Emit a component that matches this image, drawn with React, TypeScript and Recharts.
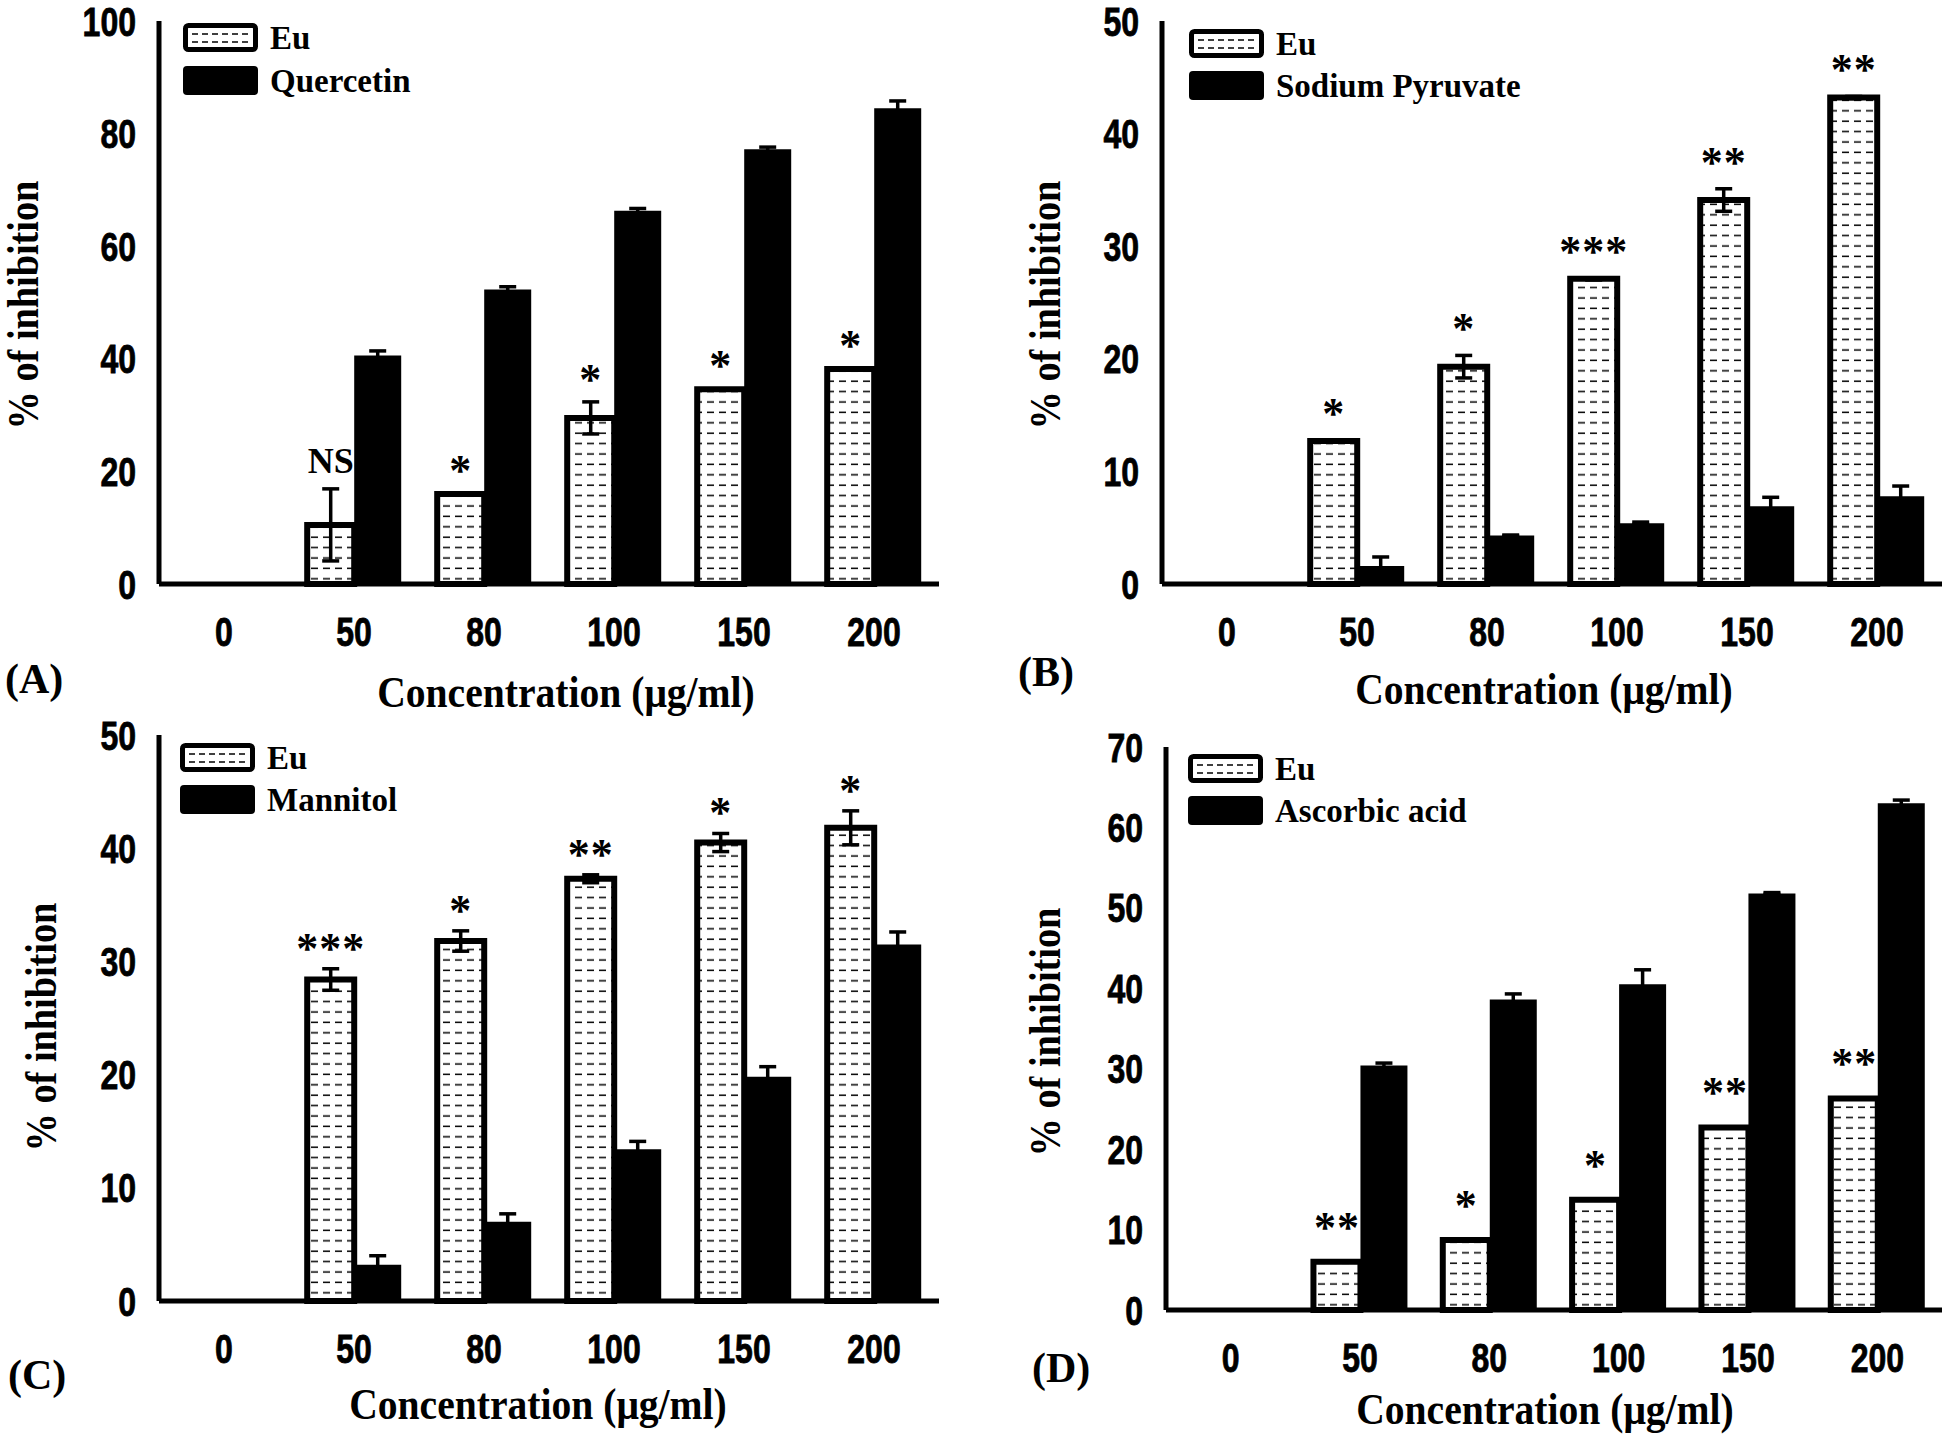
import { BarChart, Bar, XAxis, YAxis, ErrorBar, LabelList } from "recharts";

const categories = ["0", "50", "80", "100", "150", "200"];

// (A) Eu vs Quercetin
const euA = [0, 10.5, 16.0, 29.5, 34.6, 38.2];
const euErrA = [0, 6.4, 0, 2.85, 0, 0.2];
const quercetin = [0, 40.6, 52.3, 66.3, 77.2, 84.5];
const quercetinErr = [0, 0.8, 0.5, 0.4, 0.4, 1.3];
const sigA = ["", "NS", "*", "*", "*", "*"];
const ticksA = [0, 20, 40, 60, 80, 100];

// (B) Eu vs Sodium Pyruvate
const euB = [0, 12.7, 19.3, 27.1, 34.1, 43.2];
const euErrB = [0, 0.1, 1.0, 0.1, 1.0, 0.1];
const sodiumPyruvate = [0, 1.6, 4.3, 5.4, 6.9, 7.8];
const sodiumPyruvateErr = [0, 0.8, 0.05, 0.1, 0.8, 0.9];
const sigB = ["", "*", "*", "***", "**", "**"];
const ticksB = [0, 10, 20, 30, 40, 50];

// (C) Eu vs Mannitol
const euC = [0, 28.4, 31.8, 37.3, 40.5, 41.8];
const euErrC = [0, 0.95, 0.9, 0.35, 0.8, 1.5];
const mannitol = [0, 3.2, 7.0, 13.4, 19.8, 31.5];
const mannitolErr = [0, 0.8, 0.7, 0.7, 0.9, 1.1];
const sigC = ["", "***", "*", "**", "*", "*"];
const ticksC = [0, 10, 20, 30, 40, 50];

// (D) Eu vs Ascorbic acid
const euD = [0, 6.0, 8.7, 13.7, 22.7, 26.3];
const euErrD = [0, 0, 0, 0, 0, 0];
const ascorbicAcid = [0, 30.4, 38.6, 40.5, 51.8, 63.0];
const ascorbicAcidErr = [0, 0.3, 0.7, 1.8, 0.1, 0.4];
const sigD = ["", "**", "*", "*", "**", "**"];
const ticksD = [0, 10, 20, 30, 40, 50, 60, 70];

const SERIF = "'Liberation Serif', 'Times New Roman', serif";
const SANS = "'Liberation Sans', Arial, sans-serif";

const YW = 150;
const MT = 40;
const XH = 90;
const MR = 4;

function XTick(props: any) {
  const { x, y, payload } = props;
  return (
    <text
      transform={`translate(${x},${y + 62}) scale(0.8,1)`}
      textAnchor="middle"
      fontFamily={SANS}
      fontWeight={700}
      fontSize={40}
      fill="#000"
      stroke="#000"
      strokeWidth={0.8}
    >
      {payload.value}
    </text>
  );
}

function YTick(props: any) {
  const { x, y, payload } = props;
  return (
    <text
      transform={`translate(${x - 23},${y + 14.5}) scale(0.8,1)`}
      textAnchor="end"
      fontFamily={SANS}
      fontWeight={700}
      fontSize={40}
      fill="#000"
      stroke="#000"
      strokeWidth={0.8}
    >
      {payload.value}
    </text>
  );
}

type PanelProps = {
  id: string;
  eu: number[];
  euErr: number[];
  other: number[];
  otherErr: number[];
  sig: string[];
  ticks: number[];
  plotLeft: number;
  plotTop: number;
  plotW: number;
  plotH: number;
  sigGap: number;
};

function Panel(p: PanelProps) {
  const data = categories.map((c, i) => ({
    cat: c,
    eu: p.eu[i],
    euErr: p.euErr[i],
    other: p.other[i],
    otherErr: p.otherErr[i],
    sig: p.sig[i],
  }));
  const max = p.ticks[p.ticks.length - 1];

  // label text carries its own bar value and error so the offset follows the scale
  const sigKey = (d: any) => (d.sig ? `${d.sig}|${d.euErr}|${d.eu}` : "");

  const renderSig = (props: any) => {
    const { value } = props;
    if (!value) return null;
    const vb = props.viewBox || {};
    const x = Number(props.x ?? vb.x);
    const y = Number(props.y ?? vb.y);
    const width = Number(props.width ?? vb.width);
    const height = Number(props.height ?? vb.height);
    const [label, errStr, valStr] = String(value).split("|");
    const val = Number(valStr);
    const err = Number(errStr);
    const pxPerUnit = val ? Math.abs(height) / val : 0;
    const errTop = y - err * pxPerUnit;
    const top = Math.min(y - 3, errTop - 2);
    const isStar = label.startsWith("*");
    const baseline = top - p.sigGap + (isStar ? 20 : 12);
    return (
      <text
        x={x + width / 2}
        y={baseline}
        textAnchor="middle"
        fontFamily={SERIF}
        fontWeight={700}
        fontSize={isStar ? 44 : 36}
        letterSpacing={isStar ? 1 : 0}
        fill="#000"
      >
        {label}
      </text>
    );
  };

  return (
    <div style={{ position: "absolute", left: p.plotLeft - YW, top: p.plotTop - MT }}>
      <BarChart
        width={YW + p.plotW + MR}
        height={MT + p.plotH + XH}
        data={data}
        margin={{ top: MT, right: MR, bottom: 0, left: 0 }}
        barCategoryGap="14%"
        barGap={0}
      >
        <defs>
          <pattern id={`dash-${p.id}`} patternUnits="userSpaceOnUse" width={12} height={10.4}>
            <rect width={12} height={10.4} fill="#fff" />
            <line x1={2} y1={5} x2={9} y2={5} stroke="#000" strokeWidth={1.5} />
          </pattern>
        </defs>
        <XAxis
          dataKey="cat"
          height={XH}
          interval={0}
          tickLine={false}
          tickSize={0}
          tickMargin={0}
          axisLine={{ stroke: "#000", strokeWidth: 5 }}
          tick={(props: any) => <XTick {...props} />}
        />
        <YAxis
          width={YW}
          type="number"
          domain={[0, max]}
          ticks={p.ticks}
          interval={0}
          tickLine={false}
          tickSize={0}
          tickMargin={0}
          axisLine={{ stroke: "#000", strokeWidth: 5 }}
          tick={(props: any) => <YTick {...props} />}
        />
        <Bar
          dataKey="eu"
          fill={`url(#dash-${p.id})`}
          stroke="#000"
          strokeWidth={6}
          isAnimationActive={false}
        >
          <ErrorBar
            dataKey="euErr"
            width={8.5}
            strokeWidth={3.5}
            stroke="#000"
            direction="y"
            isAnimationActive={false}
          />
          <LabelList dataKey={sigKey} content={renderSig} />
        </Bar>
        <Bar dataKey="other" fill="#000" isAnimationActive={false}>
          <ErrorBar
            dataKey="otherErr"
            width={8.5}
            strokeWidth={3.5}
            stroke="#000"
            direction="y"
            isAnimationActive={false}
          />
        </Bar>
      </BarChart>
    </div>
  );
}

function LegendItems({ bx, by1, by2, names }: { bx: number; by1: number; by2: number; names: string[] }) {
  return (
    <g>
      <rect x={bx + 2.5} y={by1 + 2.5} width={70} height={24} rx={3} fill="#fff" stroke="#000" strokeWidth={5} />
      <line x1={bx + 9} y1={by1 + 11} x2={bx + 66} y2={by1 + 11} stroke="#000" strokeWidth={1.5} strokeDasharray="6 4" />
      <line x1={bx + 9} y1={by1 + 19} x2={bx + 66} y2={by1 + 19} stroke="#000" strokeWidth={1.5} strokeDasharray="6 4" />
      <text x={bx + 87} y={by1 + 26} fontFamily={SERIF} fontWeight={700} fontSize={33} fill="#000">
        {names[0]}
      </text>
      <rect x={bx} y={by2} width={75} height={29} rx={4} fill="#000" />
      <text x={bx + 87} y={by2 + 26} fontFamily={SERIF} fontWeight={700} fontSize={33} fill="#000">
        {names[1]}
      </text>
    </g>
  );
}

function YTitle({ x, y }: { x: number; y: number }) {
  return (
    <text
      transform={`translate(${x},${y}) rotate(-90) scale(0.87,1)`}
      textAnchor="middle"
      fontFamily={SERIF}
      fontWeight={700}
      fontSize={44}
      fill="#000"
    >
      % of inhibition
    </text>
  );
}

function XTitle({ x, y }: { x: number; y: number }) {
  return (
    <text
      transform={`translate(${x},${y}) scale(0.9,1)`}
      textAnchor="middle"
      fontFamily={SERIF}
      fontWeight={700}
      fontSize={44}
      fill="#000"
    >
      Concentration (μg/ml)
    </text>
  );
}

function Letter({ x, y, t }: { x: number; y: number; t: string }) {
  return (
    <text x={x} y={y} fontFamily={SERIF} fontWeight={700} fontSize={42} fill="#000">
      {t}
    </text>
  );
}

export default function App() {
  return (
    <div style={{ position: "absolute", left: 0, top: 0, width: 1946, height: 1435, background: "#fff", overflow: "hidden" }}>
      <Panel id="a" eu={euA} euErr={euErrA} other={quercetin} otherErr={quercetinErr} sig={sigA} ticks={ticksA}
        plotLeft={159} plotTop={21} plotW={780} plotH={563} sigGap={26} />
      <Panel id="b" eu={euB} euErr={euErrB} other={sodiumPyruvate} otherErr={sodiumPyruvateErr} sig={sigB} ticks={ticksB}
        plotLeft={1162} plotTop={21} plotW={780} plotH={563} sigGap={30} />
      <Panel id="c" eu={euC} euErr={euErrC} other={mannitol} otherErr={mannitolErr} sig={sigC} ticks={ticksC}
        plotLeft={159} plotTop={735} plotW={780} plotH={566} sigGap={24} />
      <Panel id="d" eu={euD} euErr={euErrD} other={ascorbicAcid} otherErr={ascorbicAcidErr} sig={sigD} ticks={ticksD}
        plotLeft={1166} plotTop={747} plotW={776} plotH={563} sigGap={37} />
      <svg width={1946} height={1435} style={{ position: "absolute", left: 0, top: 0, pointerEvents: "none" }}>
        <LegendItems bx={183} by1={23} by2={66} names={["Eu", "Quercetin"]} />
        <LegendItems bx={1189} by1={29} by2={71} names={["Eu", "Sodium Pyruvate"]} />
        <LegendItems bx={180} by1={743} by2={785} names={["Eu", "Mannitol"]} />
        <LegendItems bx={1188} by1={754} by2={796} names={["Eu", "Ascorbic acid"]} />
        <YTitle x={38} y={305} />
        <YTitle x={1060} y={305} />
        <YTitle x={56} y={1027} />
        <YTitle x={1060} y={1032} />
        <XTitle x={566} y={707} />
        <XTitle x={1544} y={704} />
        <XTitle x={538} y={1419} />
        <XTitle x={1545} y={1424} />
        <Letter x={5} y={693} t="(A)" />
        <Letter x={1018} y={686} t="(B)" />
        <Letter x={8} y={1389} t="(C)" />
        <Letter x={1032} y={1382} t="(D)" />
      </svg>
    </div>
  );
}
